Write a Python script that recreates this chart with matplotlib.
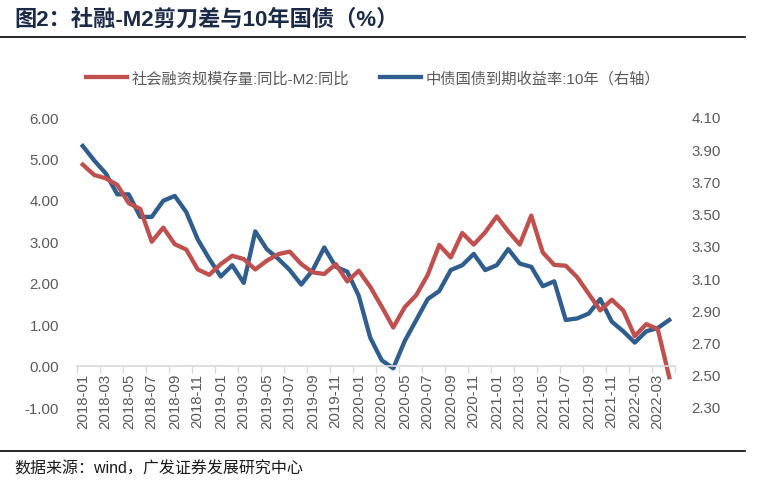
import matplotlib
matplotlib.use('Agg')
import matplotlib.pyplot as plt
from matplotlib.lines import Line2D
import numpy as np

plt.rcParams['font.family'] = ['Liberation Sans', 'Noto Sans CJK SC', 'DejaVu Sans']

# monthly data 2018-01 .. 2022-04
months = ['%d-%02d' % (2018 + i // 12, i % 12 + 1) for i in range(52)]

# 社会融资规模存量:同比 - M2:同比 (left axis, %)
tsf_m2 = [4.85, 4.60, 4.52, 4.36, 3.92, 3.78, 2.99, 3.33, 2.93, 2.80,
          2.32, 2.19, 2.45, 2.65, 2.57, 2.32, 2.53, 2.69, 2.75, 2.45,
          2.25, 2.21, 2.45, 2.03, 2.29, 1.90, 1.42, 0.92, 1.41, 1.70,
          2.19, 2.91, 2.61, 3.20, 2.92, 3.22, 3.60, 3.24, 2.92, 3.62,
          2.73, 2.43, 2.41, 2.13, 1.73, 1.33, 1.59, 1.33, 0.71, 1.00,
          0.88, -0.28]

# 中债国债到期收益率:10年 (right axis, %)
cgb10y = [3.92, 3.83, 3.75, 3.62, 3.62, 3.48, 3.48, 3.58, 3.61, 3.51,
          3.34, 3.22, 3.11, 3.18, 3.07, 3.39, 3.28, 3.22, 3.15, 3.06,
          3.15, 3.29, 3.17, 3.14, 2.99, 2.73, 2.59, 2.54, 2.71, 2.84,
          2.97, 3.02, 3.15, 3.18, 3.25, 3.15, 3.18, 3.28, 3.19, 3.17,
          3.05, 3.08, 2.84, 2.85, 2.88, 2.97, 2.83, 2.77, 2.70, 2.77,
          2.79, 2.84]

left_ticks = [-1, 0, 1, 2, 3, 4, 5, 6]
right_ticks = [2.3, 2.5, 2.7, 2.9, 3.1, 3.3, 3.5, 3.7, 3.9, 4.1]

red = '#C0504D'
blue = '#2F5D8E'
grey_txt = '#595959'

fig = plt.figure(figsize=(7.72, 5.02), dpi=100)
ax = fig.add_axes([77 / 772, 94 / 502, 598 / 772, 290 / 502])
ax2 = ax.twinx()

x = np.arange(len(months))
l1, = ax.plot(x, tsf_m2, color=red, lw=3.1, solid_joinstyle='round')
l2, = ax2.plot(x, cgb10y, color=blue, lw=3.1, solid_joinstyle='round')

ax.set_xlim(-0.5, len(months) - 0.5)
ax.set_ylim(-1, 6)
ax2.set_ylim(2.3, 4.1)

ax.set_yticks(left_ticks)
ax.set_yticklabels(['%.2f' % v for v in left_ticks])
ax2.set_yticks(right_ticks)
ax2.set_yticklabels(['%.2f' % v for v in right_ticks])

ax.set_xticks(x[::2])
ax.set_xticklabels(months[::2])
ax.set_xticks(np.arange(-0.5, len(months), 2), minor=True)
ax.tick_params(axis='x', which='major', length=0, pad=5, labelsize=10.8,
               colors=grey_txt, labelrotation=90)
ax.tick_params(axis='x', which='minor', length=5, width=1, color='#d9d9d9', direction='out')
ax.tick_params(axis='y', length=0, pad=13, labelsize=10.8, colors=grey_txt)
ax2.tick_params(axis='y', length=0, pad=12, labelsize=10.8, colors=grey_txt)
for lab in ax.get_xticklabels():
    lab.set_ha('center')
    lab.set_va('top')

for a in (ax, ax2):
    for s in ('top', 'left', 'right', 'bottom'):
        a.spines[s].set_visible(False)
ax.spines['bottom'].set_visible(True)
ax.spines['bottom'].set_position(('data', 0))
ax.spines['bottom'].set_color('#d9d9d9')
ax.spines['bottom'].set_linewidth(1.2)
ax.set_zorder(ax2.get_zorder() + 1)
ax.patch.set_visible(False)

fig.legend([l1, l2], ['社会融资规模存量:同比-M2:同比', '中债国债到期收益率:10年（右轴）'],
           loc='center', bbox_to_anchor=(0.483, 1 - 79 / 502), ncol=2, frameon=False,
           fontsize=11, handlelength=2.7, columnspacing=2.0, handletextpad=0.3,
           labelcolor=grey_txt)

# title, rules and source
fig.text(14 / 772, 1 - 20 / 502, '图2：社融-M2剪刀差与10年国债（%）', fontsize=16,
         fontweight='bold', color='#1B2A47', va='center', ha='left')
fig.add_artist(Line2D([0, 745 / 772], [1 - 38 / 502, 1 - 38 / 502], color='black', lw=1.2))
fig.add_artist(Line2D([0, 745 / 772], [1 - 452 / 502, 1 - 452 / 502], color='black', lw=1.2))
fig.text(14 / 772, 1 - 469 / 502, '数据来源：wind，广发证券发展研究中心', fontsize=11.5,
         color='#1a1a1a', va='center', ha='left')

fig.savefig('out.png', dpi=100)
